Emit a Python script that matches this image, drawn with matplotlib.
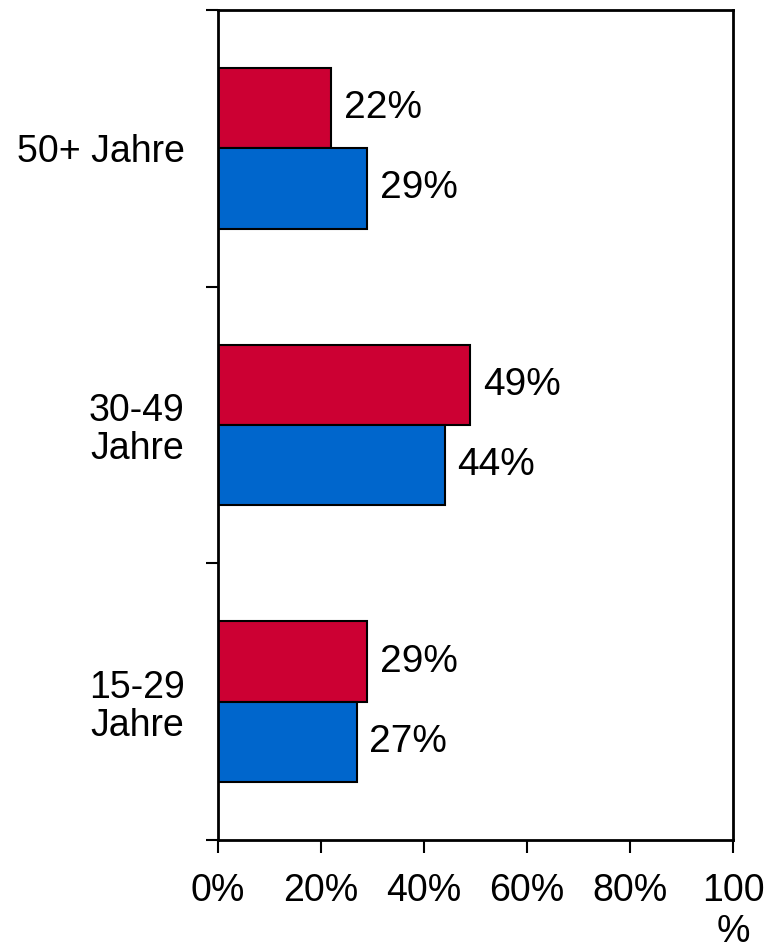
import matplotlib
matplotlib.use("Agg")
import matplotlib.pyplot as plt
import numpy as np

plt.rcParams["font.family"] = ["Liberation Sans", "DejaVu Sans"]

# Daten
groups = ["15-29\nJahre", "30-49\nJahre", "50+ Jahre"]
red_values = [29, 49, 22]
blue_values = [27, 44, 29]
xticks = [0, 20, 40, 60, 80, 100]
xtick_labels = ["0%", "20%", "40%", "60%", "80%", "100\n%"]

RED = "#CC0033"
BLUE = "#0066CC"
FS = 27

fig = plt.figure(figsize=(7.74, 9.52), dpi=100)
ax = fig.add_axes([0.2817, 0.1176, 0.6653, 0.8719])

y = np.arange(len(groups))
h = 0.29
ax.barh(y + h / 2, red_values, height=h, color=RED, edgecolor="black", linewidth=1.5)
ax.barh(y - h / 2, blue_values, height=h, color=BLUE, edgecolor="black", linewidth=1.5)

for yi, v in zip(y, red_values):
    ax.text(v + 2.4, yi + h / 2, f"{v}%", va="center", ha="left", fontsize=FS + 1)
for yi, v in zip(y, blue_values):
    ax.text(v + 2.4, yi - h / 2, f"{v}%", va="center", ha="left", fontsize=FS + 1)

ax.set_xlim(0, 100)
ax.set_ylim(-0.5, 2.5)
ax.set_xticks(xticks)
ax.set_xticklabels(xtick_labels, fontsize=FS, linespacing=1.15)
ax.set_yticks([-0.5, 0.5, 1.5, 2.5])
ax.set_yticklabels([])
ax.set_yticks(y, minor=True)
ax.set_yticklabels(groups, minor=True, fontsize=FS, multialignment="center",
                   linespacing=1.07)
ax.tick_params(axis="y", which="minor", length=0, pad=24)
ax.tick_params(axis="y", which="major", length=9, width=1.5, direction="out")
ax.tick_params(axis="x", length=9, width=1.5, direction="out", pad=15)

for s in ax.spines.values():
    s.set_linewidth(2)

fig.savefig("out.png", dpi=100)
